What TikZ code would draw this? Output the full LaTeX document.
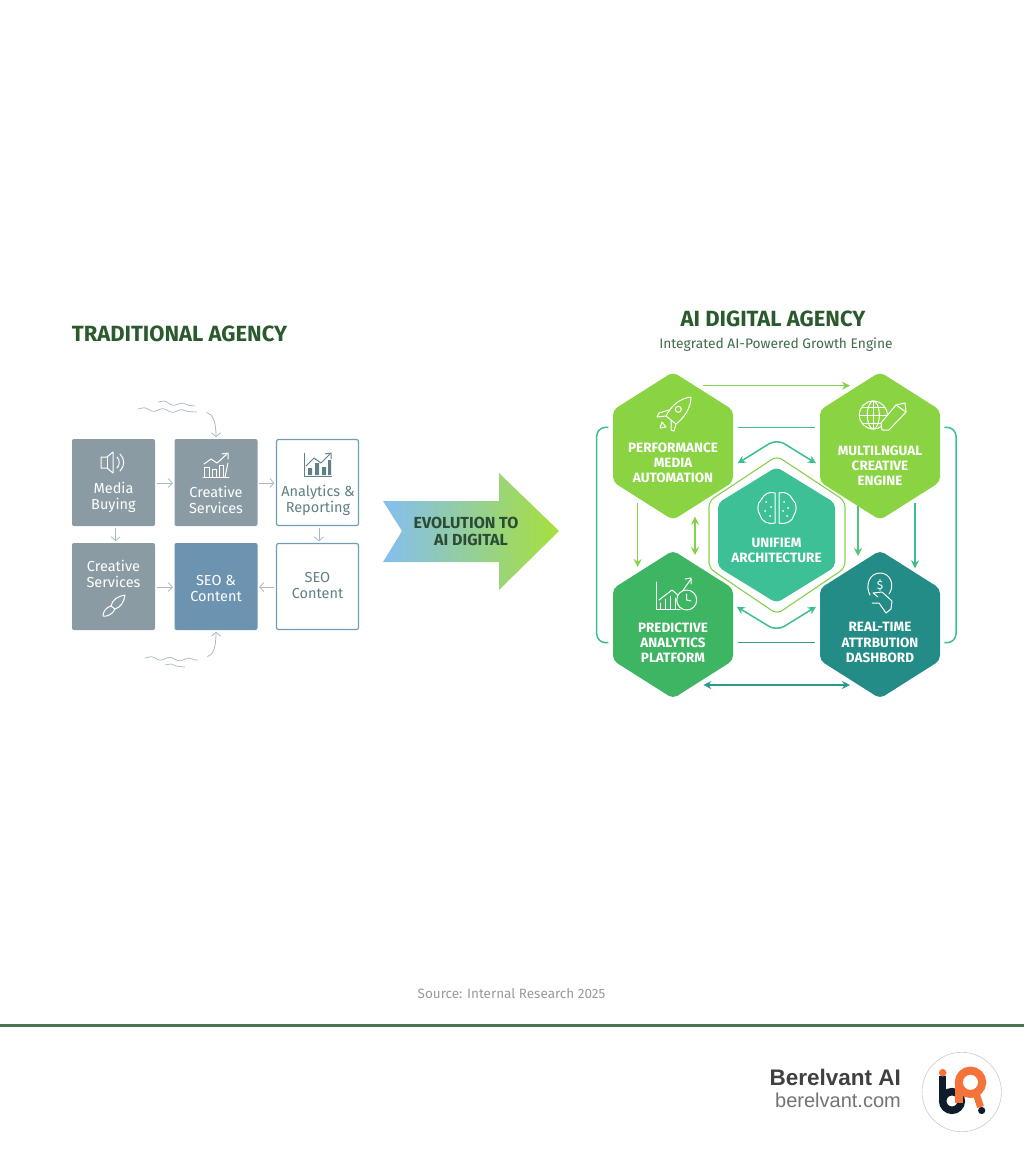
\documentclass[tikz,border=0pt]{standalone}
\usepackage{fontspec}
\setmainfont{Fira Sans}
\newfontfamily\brandfont{Liberation Sans}
\usetikzlibrary{calc}
\usetikzlibrary{positioning,arrows.meta,decorations.pathmorphing}
\definecolor{titlegreen}{HTML}{2B5A2E}
\definecolor{subgreen}{HTML}{3F6B4A}
\definecolor{boxgrey}{HTML}{8A9BA3}
\definecolor{boxblue}{HTML}{6C93B0}
\definecolor{boxedge}{HTML}{6F9DB3}
\definecolor{boxtextc}{HTML}{5F8085}
\definecolor{flowgrey}{HTML}{A8B9BF}
\definecolor{limehex}{HTML}{8AD444}
\definecolor{centrehex}{HTML}{3DC096}
\definecolor{greenhex}{HTML}{3DB562}
\definecolor{tealhex}{HTML}{238C86}
\definecolor{linklime}{HTML}{84D24C}
\definecolor{linkmint}{HTML}{3CBF8C}
\definecolor{linkteal}{HTML}{2B9C88}
\definecolor{arrowblue}{HTML}{84BEF2}
\definecolor{arrowmid}{HTML}{66CCA8}
\definecolor{arrowlime}{HTML}{A6E03C}
\definecolor{logoorange}{HTML}{F4733A}
\definecolor{logonavy}{HTML}{0F1C2B}
\tikzset{
    greybox/.style={fill=boxgrey, rounded corners=2pt, minimum width=83pt, minimum height=87pt, inner sep=0pt},
    bluebox/.style={greybox, fill=boxblue},
    whitebox/.style={draw=boxedge, line width=1.2pt, fill=white, rounded corners=2pt, minimum width=82pt, minimum height=86pt, inner sep=0pt},
    boxlabel/.style={align=center, text=white, font=\fontsize{14.5}{16}\selectfont},
    whitelabel/.style={boxlabel, text=boxtextc},
    hexlabel/.style={align=center, text=white, font=\fontsize{13.5}{15.3}\selectfont\bfseries},
    flow/.style={draw=flowgrey, line width=0.8pt, shorten <=1.5pt, shorten >=1.5pt, -{Straight Barb[length=4pt,width=9pt]}},
    wave/.style={draw=flowgrey, line width=0.7pt, decorate, decoration={snake, amplitude=1.6pt, segment length=19pt}},
    link/.style={line width=1.5pt, rounded corners=9pt},
    tip/.style={{Stealth[length=8pt,width=8pt]}-{Stealth[length=8pt,width=8pt]}},
    endtip/.style={-{Stealth[length=8pt,width=8pt]}},
    whiteicon/.style={draw=white, line width=1pt, line join=round, line cap=round},
    chartline/.style={draw=boxtextc, line width=1pt, line join=round}
}
\newcommand{\hexa}[5]{\fill[#5, rounded corners=5pt] (#1,#2-#3) -- (#1+60,#2-#4) -- (#1+60,#2+#4) -- (#1,#2+#3) -- (#1-60,#2+#4) -- (#1-60,#2-#4) -- cycle;}
\begin{document}
\begin{tikzpicture}[x=1pt, y=-1pt]
    \useasboundingbox (0,0) rectangle (1024,1154);
    \node[text=titlegreen, font=\fontsize{22}{24}\selectfont\bfseries] (tradtitle) at (179.5,334) {TRADITIONAL AGENCY};
    \node[greybox] (media) at (113.5,482.5) {};
    \node[greybox] (creative) at (216,482.5) {};
    \node[whitebox] (analytics) at (317.5,482.5) {};
    \node[greybox] (creativeb) at (113.5,586.5) {};
    \node[bluebox] (seo) at (216,586.5) {};
    \node[whitebox] (seob) at (317.5,586.5) {};
    \node[boxlabel] (medialabel) at (113.5,497) {Media\\Buying};
    \node[boxlabel] (creativelabel) at (216,500) {Creative\\Services};
    \node[whitelabel] (analyticslabel) at (318,500) {Analytics \&\\Reporting};
    \node[boxlabel] (creativeblabel) at (113.5,574) {Creative\\Services};
    \node[boxlabel] (seolabel) at (216,588) {SEO \&\\Content};
    \node[whitelabel] (seoblabel) at (317.5,585.5) {SEO\\Content};
    \draw[flow] (media.east |- 0,483) -- (creative.west |- 0,483);
    \draw[flow] (creative.east |- 0,483) -- (analytics.west |- 0,483);
    \draw[flow] (media.south -| 115.7,0) -- (creativeb.north -| 115.7,0);
    \draw[flow] (analytics.south -| 319,0) -- (seob.north -| 319,0);
    \draw[flow] (creativeb.east |- 0,587) -- (seo.west |- 0,587);
    \draw[flow] (seob.west |- 0,587) -- (seo.east |- 0,587);
    \coordinate (wavetop) at (205,412);
    \coordinate (wavebot) at (206,657);
    \draw[flow] (wavetop) .. controls (213,414) and (216,422) .. (creative.north);
    \draw[flow] (wavebot) .. controls (213,655) and (216,648) .. (seo.south);
    \draw[wave] (138,409) -- (197,412);
    \draw[wave] (158,402) -- (195,406);
    \draw[wave] (145,658) -- (198,660);
    \draw[wave] (165,665) -- (185,667);
    % speaker
    \draw[whiteicon] (101,457) -- (107,457) -- (113,452) -- (113,473) -- (107,468) -- (101,468) -- cycle;
    \draw[whiteicon] (107,457) -- (107,468);
    \draw[whiteicon] (117,457) .. controls (120,460) and (120,465) .. (117,468);
    \draw[whiteicon] (120,454) .. controls (125,459) and (125,466) .. (120,471);
    % bars
    \draw[whiteicon] (203,477) -- (229,477);
    \draw[whiteicon] (204,477) rectangle (209,467);
    \draw[whiteicon] (212,477) rectangle (216,469);
    \draw[whiteicon] (219,477) rectangle (223,465);
    \draw[whiteicon] (225,477) -- (228,463);
    \draw[whiteicon] (204,464) -- (211,459) -- (217,463) -- (227,454);
    \draw[whiteicon] (222,454) -- (228,453) -- (228,459);
    \draw[chartline] (304,453) -- (304,476) -- (332,476);
    \fill[boxtextc] (308,475) rectangle (312,468) (315,475) rectangle (319,463) (322,475) rectangle (326,467) (328,475) rectangle (331,460);
    \draw[chartline] (306,466) -- (314,458) -- (321,463) -- (330,454);
    \draw[chartline] (325,454) -- (331,453) -- (331,459);
    % brush
    \draw[whiteicon] (125,595) .. controls (118,596) and (112,600) .. (111,606) -- (115,609) .. controls (121,607) and (124,602) .. (125,595) -- cycle;
    \draw[whiteicon] (111,606) .. controls (106,607) and (103,612) .. (103,616) .. controls (107,617) and (113,614) .. (115,609);
    \shade[left color=arrowblue, middle color=arrowmid, right color=arrowlime]
        (383,501) -- (499,501) -- (499,473) -- (559,531) -- (499,590) -- (499,562) -- (383,562) -- (402,531) -- cycle;
    \node[text=subgreen!70!black, align=center, font=\fontsize{16}{17}\selectfont\bfseries] (evolution) at (466,531.5) {EVOLUTION TO\\\hspace*{10pt}AI DIGITAL};
    \node[text=titlegreen, font=\fontsize{22}{24}\selectfont\bfseries] (aititle) at (773,319) {AI DIGITAL AGENCY};
    \node[text=subgreen, font=\fontsize{13.8}{16}\selectfont] (aisub) at (776,345) {Integrated AI-Powered Growth Engine};
    \coordinate (topa) at (703,385.7);
    \coordinate (topb) at (850,385.7);
    \coordinate (uppera) at (737.7,427.3);
    \coordinate (upperb) at (815.3,427.3);
    \coordinate (lowera) at (737.7,642.7);
    \coordinate (lowerb) at (815.3,642.7);
    \coordinate (bota) at (703.3,685);
    \coordinate (botb) at (850,685);
    \coordinate (brla) at (608.3,427.3);
    \coordinate (brlb) at (596.7,427.3);
    \coordinate (brlc) at (596.7,642.7);
    \coordinate (brld) at (608.3,642.7);
    \coordinate (brra) at (944.3,427.3);
    \coordinate (brrb) at (956,427.3);
    \coordinate (brrc) at (956,642.7);
    \coordinate (brrd) at (944.3,642.7);
    \coordinate (peaka) at (737.7,463.3);
    \coordinate (peakb) at (776.7,439);
    \coordinate (peakc) at (816,463.3);
    \coordinate (valleya) at (736.7,606.7);
    \coordinate (valleyb) at (776.7,631);
    \coordinate (valleyc) at (816,606.7);
    \coordinate (downaa) at (637.7,503.3);
    \coordinate (downab) at (637.7,567);
    \coordinate (downba) at (695,516.7);
    \coordinate (downbb) at (695,555);
    \coordinate (downca) at (858,503.3);
    \coordinate (downcb) at (858,556);
    \coordinate (downda) at (915,503.3);
    \coordinate (downdb) at (915,568.3);
    \draw[link, draw=linklime, endtip] (topa) -- (topb);
    \draw[link, draw=linkmint] (uppera) -- (upperb);
    \draw[link, draw=linkteal!80!linkmint] (lowera) -- (lowerb);
    \draw[link, draw=linkteal, tip] (bota) -- (botb);
    \draw[link, draw=linkmint] (brla) -- (brlb) -- (brlc) -- (brld);
    \draw[link, draw=linkmint] (brra) -- (brrb) -- (brrc) -- (brrd);
    \draw[link, draw=linkmint, tip] (peaka) -- (peakb) -- (peakc);
    \draw[link, draw=linkmint, tip] (valleya) -- (valleyb) -- (valleyc);
    \draw[link, draw=linklime, endtip] (downaa) -- (downab);
    \draw[link, draw=linklime, tip] (downba) -- (downbb);
    \draw[link, draw=linkmint!70!linklime, endtip] (downca) -- (downcb);
    \draw[link, draw=linkmint, endtip] (downda) -- (downdb);
    \hexa{673}{446}{74}{36}{limehex}
    \hexa{880}{446}{74}{36}{limehex}
    \hexa{673}{624.5}{74}{36}{greenhex}
    \hexa{880}{624.5}{74}{36}{tealhex}
    \draw[draw=linklime, line width=1.1pt, rounded corners=6pt] (709,530) -- (709,501) -- (777,456) -- (845,501) -- (845,568) -- (777,614) -- (709,568) -- cycle;
    \fill[centrehex, rounded corners=5pt] (776.5,467) -- (835,503) -- (835,567) -- (776.5,603) -- (718,567) -- (718,503) -- cycle;
    \node[hexlabel] (perf) at (673,463) {PERFORMANCE\\MEDIA\\AUTOMATION};
    \node[hexlabel] (multi) at (880,465.7) {MULTILNGUAL\\CREATIVE\\ENGINE};
    \node[hexlabel] (pred) at (673,643) {PREDICTIVE\\ANALYTICS\\PLATFORM};
    \node[hexlabel] (real) at (880,642.7) {REAL-TIME\\ATTRBUTION\\DASHBORD};
    \node[hexlabel] (unified) at (776.5,550.5) {UNIFIEM\\ARCHITECTURE};
    % rocket
    \draw[whiteicon] (691,397) .. controls (680,398) and (671,406) .. (666,416) -- (676,424) .. controls (684,418) and (691,408) .. (691,397) -- cycle;
    \draw[whiteicon] (678.3,409.3) circle (3);
    \draw[whiteicon] (669,410) -- (659,413) -- (657,417) -- (666,416);
    \draw[whiteicon] (676,424) -- (674,431) -- (671,430) -- (671,420);
    \draw[whiteicon] (662,422) -- (660,428) -- (666,427) -- cycle;
    % globe and pencil
    \draw[whiteicon] (873.3,415) circle (14);
    \draw[whiteicon] (873.3,415) ellipse (6 and 14);
    \draw[whiteicon] (859.3,415) -- (887.3,415) (862,407) -- (885,407) (862,423) -- (885,423) (873.3,401) -- (873.3,429);
    \fill[limehex, draw=white, line width=1pt, line join=round] (896,405) -- (905,403) -- (906,412) -- (889,430) -- (882,430) -- (881,423) -- cycle;
    \draw[whiteicon] (896,405) -- (906,412);
    % brain
    \draw[whiteicon] (775,493) .. controls (769,491) and (764,494) .. (761,500) .. controls (757,503) and (757,511) .. (760,515) .. controls (761,521) and (768,525) .. (775,523) -- cycle;
    \draw[whiteicon] (779,493) .. controls (785,491) and (790,494) .. (793,500) .. controls (797,503) and (797,511) .. (794,515) .. controls (793,521) and (786,525) .. (779,523) -- cycle;
    \fill[white] (766,502) circle (1) (771,507) circle (1) (765,511) circle (1) (770,516) circle (1) (784,502) circle (1) (788,508) circle (1) (783,511) circle (1) (787,516) circle (1);
    % chart and clock
    \draw[whiteicon] (656,582) -- (656,609) -- (680,609);
    \draw[whiteicon] (660,609) -- (660,603) (665,609) -- (665,599) (670,609) -- (670,596) (675,609) -- (675,598);
    \draw[whiteicon] (659,600) -- (672,590) -- (679,596) -- (691,579);
    \draw[whiteicon] (685,579) -- (691,578) -- (691,584);
    \fill[greenhex] (686.7,600) circle (10);
    \draw[whiteicon] (686.7,600) circle (10);
    \draw[whiteicon] (686.7,594) -- (686.7,600) -- (691,601);
    % coin and hand
    \draw[whiteicon] (870,595) .. controls (865,586) and (869,573) .. (880,573) .. controls (891,573) and (895,586) .. (889,594);
    \node[text=white, inner sep=0pt, font=\fontsize{12}{14}\selectfont] (dollar) at (880,585) {\$};
    \draw[whiteicon] (873,593) -- (882,592) -- (892,601) -- (891,609) -- (886,613) -- (879,603) -- (872,603) (878,597) -- (873,593);
    \node[text=black!40, font=\fontsize{13.5}{16}\selectfont] (source) at (511.5,993.5) {Source: Internal Research 2025};
    \coordinate (rulea) at (0,1025);
    \coordinate (ruleb) at (1024,1025);
    \draw[draw=titlegreen!85!white, line width=3pt] (rulea) -- (ruleb);
    \node[text=black!75, anchor=east, inner sep=0pt, font=\brandfont\fontsize{22.5}{24}\selectfont\bfseries] (brand) at (901,1077) {Berelvant AI};
    \node[text=black!55, anchor=east, inner sep=0pt, font=\brandfont\fontsize{20}{22}\selectfont] (brandurl) at (901,1100) {berelvant.com};
    \draw[draw=black!20, line width=0.6pt, fill=white] (961.7,1092) circle (39.7);
    \draw[draw=logonavy, line width=7.5pt] (952,1101) circle (9.3);
    \draw[draw=logonavy, line width=7.5pt] (942.7,1076) -- (942.7,1101);
    \draw[draw=logoorange, line width=8pt] (970.5,1082.3) circle (11.7);
    \draw[draw=logoorange, line width=8pt] (958.8,1082.3) -- (958.8,1103);
    \draw[draw=logoorange, line width=7pt] (976,1093) -- (980.5,1107);
    \fill[logoorange] (942.7,1072.7) circle (3.8);
    \fill[logonavy] (981.7,1110.5) circle (3.6);
\end{tikzpicture}
\end{document}
